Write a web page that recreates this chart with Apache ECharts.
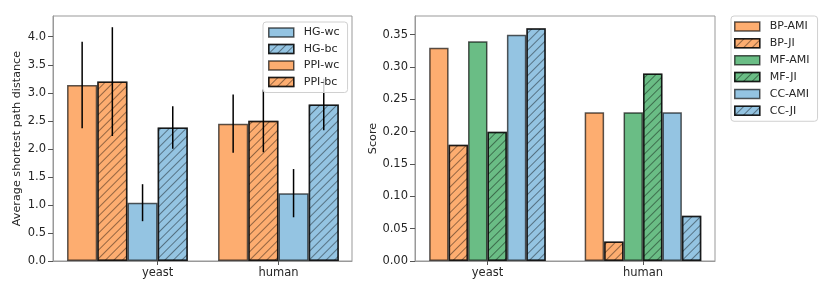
<!DOCTYPE html>
<html>
<head>
<meta charset="utf-8">
<script src="https://cdn.jsdelivr.net/npm/echarts@6/dist/echarts.min.js"></script>
<style>html,body{margin:0;padding:0;background:#fff}#c{width:830px;height:292px}</style>
</head>
<body>
<div id="c"></div>
<script>
// ---------- data ----------
var categories = ['yeast', 'human'];

// left chart
var leftSeriesNames = ['PPI-wc', 'PPI-bc', 'HG-wc', 'HG-bc'];
var leftLegendOrder = ['HG-wc', 'HG-bc', 'PPI-wc', 'PPI-bc'];
var ppiWc = [3.14, 2.45];
var ppiBc = [3.20, 2.50];
var hgWc = [1.04, 1.21];
var hgBc = [2.38, 2.79];
var ppiWcErr = [0.77, 0.52];
var ppiBcErr = [0.97, 0.56];
var hgWcErr = [0.33, 0.43];
var hgBcErr = [0.38, 0.46];
var leftXTickPos = [0.2, 1.0];
var leftYTicks = [0, 0.5, 1.0, 1.5, 2.0, 2.5, 3.0, 3.5, 4.0];

// right chart
var rightSeriesNames = ['BP-AMI', 'BP-JI', 'MF-AMI', 'MF-JI', 'CC-AMI', 'CC-JI'];
var bpAmi = [0.33, 0.23];
var bpJi = [0.18, 0.03];
var mfAmi = [0.34, 0.23];
var mfJi = [0.20, 0.29];
var ccAmi = [0.35, 0.23];
var ccJi = [0.36, 0.07];
var rightXTickPos = [0, 1];
var rightYTicks = [0, 0.05, 0.10, 0.15, 0.20, 0.25, 0.30, 0.35];

// ---------- styles ----------
var ORANGE = '#fdad70', BLUE = '#94c4e2', GREEN = '#6abd85';
var FONT = 'DejaVu Sans';
var EDGE = 'rgba(0,0,0,0.65)';
var hatch = {
  symbol: 'rect', symbolSize: 1, color: 'rgba(0,0,0,0.42)',
  dashArrayX: [1, 0], dashArrayY: [1, 4.2], rotation: -Math.PI / 4
};

function toPairs(vals) { return vals.map(function (v, i) { return [i, v]; }); }

function barSeries(name, vals, color, hatched, axisIdx, gap) {
  var s = {
    name: name, type: 'bar', xAxisIndex: axisIdx, yAxisIndex: axisIdx,
    data: toPairs(vals), barGap: '0%', barCategoryGap: gap,
    itemStyle: { color: color, borderColor: EDGE, borderWidth: 1.5 },
    emphasis: { disabled: true }, silent: true, z: 2
  };
  if (hatched) s.itemStyle.decal = hatch;
  return s;
}

var leftVals = [ppiWc, ppiBc, hgWc, hgBc];
var leftErrs = [ppiWcErr, ppiBcErr, hgWcErr, hgBcErr];
var leftColors = [ORANGE, ORANGE, BLUE, BLUE];
var leftHatch = [false, true, false, true];

var rightVals = [bpAmi, bpJi, mfAmi, mfJi, ccAmi, ccJi];
var rightColors = [ORANGE, ORANGE, GREEN, GREEN, BLUE, BLUE];
var rightHatch = [false, true, false, true, false, true];

var series = [];
leftSeriesNames.forEach(function (n, k) {
  series.push(barSeries(n, leftVals[k], leftColors[k], leftHatch[k], 0, '20%'));
});
rightSeriesNames.forEach(function (n, k) {
  series.push(barSeries(n, rightVals[k], rightColors[k], rightHatch[k], 1, '25%'));
});

// error bars
var errData = [];
leftVals.forEach(function (vals, k) {
  vals.forEach(function (v, i) { errData.push([i, v, leftErrs[k][i], k]); });
});
series.push({
  type: 'custom', xAxisIndex: 0, yAxisIndex: 0, z: 3, silent: true,
  data: errData,
  renderItem: function (params, api) {
    var x = api.value(0), y = api.value(1), e = api.value(2), k = api.value(3);
    var band = api.size([1, 0])[0];
    var barW = band * 0.8 / leftSeriesNames.length;
    var cx = api.coord([x, 0])[0] + (k - (leftSeriesNames.length - 1) / 2) * barW;
    var top = api.coord([x, y + e])[1];
    var bot = api.coord([x, y - e])[1];
    return { type: 'line', shape: { x1: cx, y1: top, x2: cx, y2: bot },
             style: { stroke: '#000', lineWidth: 1.5 } };
  }
});

function catFormatter(pos) {
  return function (v) {
    var best = 0, bd = 1e9;
    pos.forEach(function (p, i) { var d = Math.abs(p - v); if (d < bd) { bd = d; best = i; } });
    return categories[best];
  };
}

var axisLineStyle = { color: '#999', width: 1 };
var tickStyle = { color: '#555', width: 1 };
var labelStyle = { color: '#262626', fontFamily: FONT, fontSize: 11.5 };

function xAxis(gridIndex, min, max, pos) {
  return {
    type: 'value', gridIndex: gridIndex, min: min, max: max,
    splitLine: { show: false },
    axisLine: { show: true, onZero: false, lineStyle: axisLineStyle },
    axisTick: { show: true, length: 4, lineStyle: tickStyle, customValues: pos },
    axisLabel: Object.assign({ margin: 6, customValues: pos, formatter: catFormatter(pos) }, labelStyle)
  };
}
function yAxis(gridIndex, max, ticks, digits, name, gap) {
  return {
    type: 'value', gridIndex: gridIndex, min: 0, max: max,
    name: name, nameLocation: 'middle', nameGap: gap,
    nameTextStyle: { color: '#262626', fontFamily: FONT, fontSize: 11.2 },
    splitLine: { show: false },
    axisLine: { show: true, onZero: false, lineStyle: axisLineStyle },
    axisTick: { show: true, length: 5, lineStyle: tickStyle, customValues: ticks },
    axisLabel: Object.assign({ margin: 7, customValues: ticks,
      formatter: function (v) { return v.toFixed(digits); } }, labelStyle)
  };
}

var legendCommon = {
  orient: 'vertical', icon: 'rect', itemWidth: 25, itemHeight: 9,
  backgroundColor: 'rgba(255,255,255,0.8)', borderColor: '#d0d0d0', borderWidth: 1,
  borderRadius: 3, selectedMode: false,
  itemStyle: { borderWidth: 1.5, borderColor: EDGE },
  textStyle: { color: '#262626', fontFamily: FONT, fontSize: 11, padding: [0, 0, 0, 5] }
};

var option = {
  animation: false,
  backgroundColor: '#fff',
  grid: [
    { left: 53, right: 478, top: 16, bottom: 31, show: true, borderColor: '#999', borderWidth: 1, backgroundColor: 'transparent' },
    { left: 415, right: 115, top: 16, bottom: 31, show: true, borderColor: '#999', borderWidth: 1, backgroundColor: 'transparent' }
  ],
  xAxis: [
    xAxis(0, -0.493, 1.487, leftXTickPos),
    xAxis(1, -0.466, 1.463, rightXTickPos)
  ],
  yAxis: [
    yAxis(0, 4.37, leftYTicks, 1, 'Average shortest path distance', 30),
    yAxis(1, 0.379, rightYTicks, 2, 'Score', 36)
  ],
  legend: [
    Object.assign({ data: leftLegendOrder, left: 263, top: 22, itemGap: 5.5, padding: [5, 8, 5, 5] }, legendCommon),
    Object.assign({ data: rightSeriesNames, left: 731, top: 16, itemGap: 5.85, padding: [5, 8, 5, 3] }, legendCommon)
  ],
  series: series
};

var chart = echarts.init(document.getElementById('c'), null, { renderer: 'canvas' });
chart.setOption(option);
</script>
</body>
</html>
